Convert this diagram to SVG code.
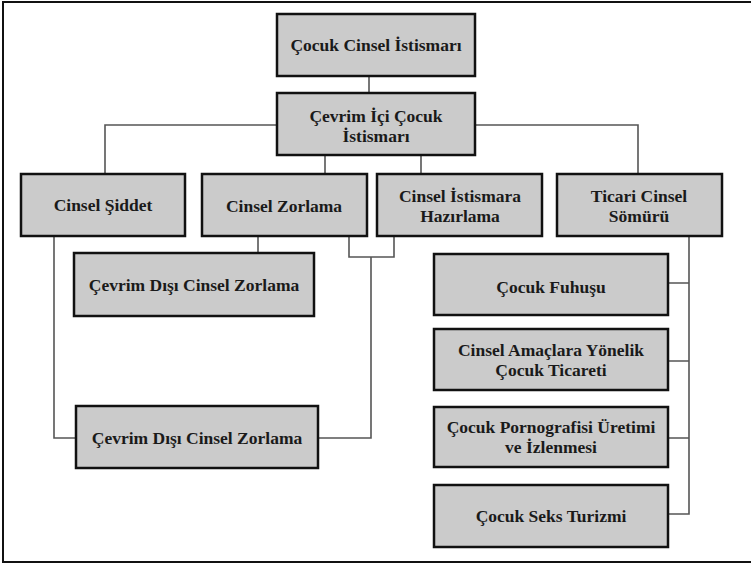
<svg xmlns="http://www.w3.org/2000/svg" width="751" height="565" viewBox="0 0 751 565">
<style>
.box{fill:#cbcbcb;stroke:#111;stroke-width:2.5}
.t{font-family:"Liberation Serif","DejaVu Serif",serif;font-weight:bold;font-size:17.5px;fill:#1a1a1a;text-anchor:middle}
.c{fill:none;stroke:#555;stroke-width:1.6}
</style>
<rect x="0" y="0" width="751" height="565" fill="#fff"/>
<rect x="3" y="2" width="770" height="560" fill="none" stroke="#111" stroke-width="2"/>
<g id="connectors">
<path class="c" d="M369 76V93"/>
<path class="c" d="M276 125H105V174M475 125H638V174"/>
<path class="c" d="M325 155V174M421 155V174"/>
<path class="c" d="M258 236V253"/>
<path class="c" d="M349 236V257H394V236M371 257V438H318"/>
<path class="c" d="M54 236V438H76"/>
<path class="c" d="M689 236V514H668M668 283H689M668 361H689M668 438H689"/>
</g>
<g id="n1"><rect class="box" x="277" y="14" width="198" height="62"/><text class="t" x="376" y="51">Çocuk Cinsel İstismarı</text></g>
<g id="n2"><rect class="box" x="277" y="93" width="198" height="62"/><text class="t" x="376" y="122">Çevrim İçi Çocuk</text><text class="t" x="376" y="142">İstismarı</text></g>
<g id="n3"><rect class="box" x="21" y="174" width="164" height="62"/><text class="t" x="103" y="211">Cinsel Şiddet</text></g>
<g id="n4"><rect class="box" x="202" y="174" width="165" height="62"/><text class="t" x="284" y="212">Cinsel Zorlama</text></g>
<g id="n5"><rect class="box" x="377" y="174" width="165" height="62"/><text class="t" x="460" y="202">Cinsel İstismara</text><text class="t" x="460" y="222">Hazırlama</text></g>
<g id="n6"><rect class="box" x="557" y="174" width="165" height="62"/><text class="t" x="639" y="202">Ticari Cinsel</text><text class="t" x="639" y="222">Sömürü</text></g>
<g id="n7"><rect class="box" x="74" y="253" width="240" height="63"/><text class="t" x="194" y="291">Çevrim Dışı Cinsel Zorlama</text></g>
<g id="n8"><rect class="box" x="76" y="406" width="242" height="62"/><text class="t" x="197" y="444">Çevrim Dışı Cinsel Zorlama</text></g>
<g id="n9"><rect class="box" x="434" y="254" width="234" height="61"/><text class="t" x="551" y="293">Çocuk Fuhuşu</text></g>
<g id="n10"><rect class="box" x="434" y="329" width="234" height="61"/><text class="t" x="551" y="356">Cinsel Amaçlara Yönelik</text><text class="t" x="551" y="376">Çocuk Ticareti</text></g>
<g id="n11"><rect class="box" x="434" y="407" width="234" height="60"/><text class="t" x="551" y="433">Çocuk Pornografisi Üretimi</text><text class="t" x="551" y="453">ve İzlenmesi</text></g>
<g id="n12"><rect class="box" x="434" y="485" width="234" height="62"/><text class="t" x="551" y="522">Çocuk Seks Turizmi</text></g>
</svg>
